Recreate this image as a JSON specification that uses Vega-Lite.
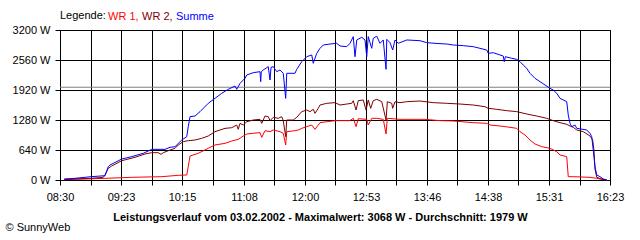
{
  "$schema": "https://vega.github.io/schema/vega-lite/v6.json",
  "width": 550,
  "height": 150,
  "autosize": "none",
  "padding": {"left": 60, "top": 30, "right": 30, "bottom": 60},
  "background": "white",
  "config": {
    "font": "Liberation Sans",
    "view": {"stroke": "black", "strokeWidth": 1},
    "axis": {
      "domainColor": "black",
      "tickColor": "black",
      "tickSize": 5,
      "gridColor": "black",
      "gridOpacity": 1,
      "gridWidth": 1,
      "labelColor": "black",
      "labelFont": "Liberation Sans",
      "labelFontSize": 11,
      "titleColor": "black",
      "titleFont": "Liberation Sans"
    }
  },
  "layer": [
    {
      "data": {"values": [{"avg": 1979}]},
      "mark": {"type": "rule", "color": "#808080", "strokeWidth": 1},
      "encoding": {
        "y": {
          "field": "avg",
          "type": "quantitative",
          "scale": {"domain": [0, 3200], "nice": false},
          "axis": {
            "values": [0, 640, 1280, 1920, 2560, 3200],
            "labelExpr": "datum.value + ' W'",
            "labelPadding": 5,
            "grid": true,
            "title": "© SunnyWeb",
            "titleAngle": 0,
            "titleFontWeight": "normal",
            "titleFontSize": 11,
            "titleAlign": "left",
            "titleBaseline": "alphabetic",
            "titleX": -55,
            "titleY": 200
          }
        }
      }
    },
    {
      "data": {
        "values": [
          {"s": "WR 1", "t": 513.7, "v": 7},
          {"s": "WR 1", "t": 548.7, "v": 36},
          {"s": "WR 1", "t": 571.7, "v": 57},
          {"s": "WR 1", "t": 597.5, "v": 71},
          {"s": "WR 1", "t": 611.7, "v": 100},
          {"s": "WR 1", "t": 619, "v": 107},
          {"s": "WR 1", "t": 620.3, "v": 284},
          {"s": "WR 1", "t": 621.8, "v": 512},
          {"s": "WR 1", "t": 628.9, "v": 569},
          {"s": "WR 1", "t": 637.5, "v": 676},
          {"s": "WR 1", "t": 643.3, "v": 747},
          {"s": "WR 1", "t": 651.9, "v": 782},
          {"s": "WR 1", "t": 657.7, "v": 832},
          {"s": "WR 1", "t": 663.3, "v": 868},
          {"s": "WR 1", "t": 664.8, "v": 889},
          {"s": "WR 1", "t": 667.6, "v": 939},
          {"s": "WR 1", "t": 670.6, "v": 981},
          {"s": "WR 1", "t": 676.2, "v": 996},
          {"s": "WR 1", "t": 682, "v": 1010},
          {"s": "WR 1", "t": 683.5, "v": 910},
          {"s": "WR 1", "t": 686.3, "v": 1052},
          {"s": "WR 1", "t": 690.6, "v": 1031},
          {"s": "WR 1", "t": 693.4, "v": 1067},
          {"s": "WR 1", "t": 699.2, "v": 1031},
          {"s": "WR 1", "t": 702, "v": 996},
          {"s": "WR 1", "t": 704.1, "v": 747},
          {"s": "WR 1", "t": 705, "v": 1031},
          {"s": "WR 1", "t": 712.1, "v": 1052},
          {"s": "WR 1", "t": 714.9, "v": 1067},
          {"s": "WR 1", "t": 717.9, "v": 1102},
          {"s": "WR 1", "t": 722.2, "v": 1138},
          {"s": "WR 1", "t": 726.5, "v": 1173},
          {"s": "WR 1", "t": 729.3, "v": 1081},
          {"s": "WR 1", "t": 732.1, "v": 1173},
          {"s": "WR 1", "t": 733.6, "v": 1223},
          {"s": "WR 1", "t": 739.4, "v": 1244},
          {"s": "WR 1", "t": 746.5, "v": 1266},
          {"s": "WR 1", "t": 759.4, "v": 1266},
          {"s": "WR 1", "t": 762.2, "v": 1316},
          {"s": "WR 1", "t": 764.6, "v": 1138},
          {"s": "WR 1", "t": 766.5, "v": 1308},
          {"s": "WR 1", "t": 773.8, "v": 1294},
          {"s": "WR 1", "t": 775.1, "v": 1173},
          {"s": "WR 1", "t": 778.1, "v": 1316},
          {"s": "WR 1", "t": 782.4, "v": 1316},
          {"s": "WR 1", "t": 788, "v": 1294},
          {"s": "WR 1", "t": 790.4, "v": 981},
          {"s": "WR 1", "t": 791.5, "v": 1316},
          {"s": "WR 1", "t": 802.4, "v": 1294},
          {"s": "WR 1", "t": 823.9, "v": 1294},
          {"s": "WR 1", "t": 836.8, "v": 1266},
          {"s": "WR 1", "t": 848.2, "v": 1259},
          {"s": "WR 1", "t": 865.4, "v": 1223},
          {"s": "WR 1", "t": 877, "v": 1209},
          {"s": "WR 1", "t": 879.8, "v": 1173},
          {"s": "WR 1", "t": 888.4, "v": 1152},
          {"s": "WR 1", "t": 897, "v": 1124},
          {"s": "WR 1", "t": 902.8, "v": 1102},
          {"s": "WR 1", "t": 905.6, "v": 1031},
          {"s": "WR 1", "t": 909.9, "v": 960},
          {"s": "WR 1", "t": 914.2, "v": 853},
          {"s": "WR 1", "t": 918.5, "v": 768},
          {"s": "WR 1", "t": 924.3, "v": 711},
          {"s": "WR 1", "t": 931.4, "v": 676},
          {"s": "WR 1", "t": 937.2, "v": 604},
          {"s": "WR 1", "t": 940, "v": 533},
          {"s": "WR 1", "t": 945.8, "v": 498},
          {"s": "WR 1", "t": 947.1, "v": 71},
          {"s": "WR 1", "t": 951.4, "v": 71},
          {"s": "WR 1", "t": 965.8, "v": 57},
          {"s": "WR 1", "t": 971.6, "v": 36},
          {"s": "WR 1", "t": 975.9, "v": 14},
          {"s": "WR 1", "t": 980.2, "v": 0},

          {"s": "WR 2", "t": 513.7, "v": 14},
          {"s": "WR 2", "t": 536.7, "v": 36},
          {"s": "WR 2", "t": 547.2, "v": 57},
          {"s": "WR 2", "t": 548.7, "v": 107},
          {"s": "WR 2", "t": 551.5, "v": 249},
          {"s": "WR 2", "t": 554.5, "v": 299},
          {"s": "WR 2", "t": 563.1, "v": 412},
          {"s": "WR 2", "t": 574.5, "v": 484},
          {"s": "WR 2", "t": 583.1, "v": 555},
          {"s": "WR 2", "t": 588.9, "v": 583},
          {"s": "WR 2", "t": 594.5, "v": 583},
          {"s": "WR 2", "t": 596.9, "v": 548},
          {"s": "WR 2", "t": 598.8, "v": 583},
          {"s": "WR 2", "t": 604.6, "v": 640},
          {"s": "WR 2", "t": 608.9, "v": 676},
          {"s": "WR 2", "t": 611.7, "v": 747},
          {"s": "WR 2", "t": 616, "v": 818},
          {"s": "WR 2", "t": 620.3, "v": 839},
          {"s": "WR 2", "t": 626.1, "v": 853},
          {"s": "WR 2", "t": 631.9, "v": 889},
          {"s": "WR 2", "t": 637.5, "v": 939},
          {"s": "WR 2", "t": 643.3, "v": 1031},
          {"s": "WR 2", "t": 651.9, "v": 1102},
          {"s": "WR 2", "t": 657.7, "v": 1116},
          {"s": "WR 2", "t": 662, "v": 1173},
          {"s": "WR 2", "t": 663.3, "v": 1081},
          {"s": "WR 2", "t": 664.8, "v": 1209},
          {"s": "WR 2", "t": 667.6, "v": 1173},
          {"s": "WR 2", "t": 670.6, "v": 1244},
          {"s": "WR 2", "t": 676.2, "v": 1280},
          {"s": "WR 2", "t": 682, "v": 1294},
          {"s": "WR 2", "t": 683.5, "v": 1209},
          {"s": "WR 2", "t": 686.3, "v": 1365},
          {"s": "WR 2", "t": 689.1, "v": 1351},
          {"s": "WR 2", "t": 690.6, "v": 1266},
          {"s": "WR 2", "t": 693.4, "v": 1337},
          {"s": "WR 2", "t": 697.7, "v": 1316},
          {"s": "WR 2", "t": 700.7, "v": 1351},
          {"s": "WR 2", "t": 702, "v": 1266},
          {"s": "WR 2", "t": 704.1, "v": 924},
          {"s": "WR 2", "t": 705, "v": 1280},
          {"s": "WR 2", "t": 710.6, "v": 1280},
          {"s": "WR 2", "t": 713.6, "v": 1337},
          {"s": "WR 2", "t": 717.9, "v": 1458},
          {"s": "WR 2", "t": 722.2, "v": 1493},
          {"s": "WR 2", "t": 725, "v": 1458},
          {"s": "WR 2", "t": 727.8, "v": 1508},
          {"s": "WR 2", "t": 729.3, "v": 1422},
          {"s": "WR 2", "t": 732.1, "v": 1529},
          {"s": "WR 2", "t": 733.6, "v": 1600},
          {"s": "WR 2", "t": 739.4, "v": 1636},
          {"s": "WR 2", "t": 746.5, "v": 1650},
          {"s": "WR 2", "t": 750.8, "v": 1600},
          {"s": "WR 2", "t": 756.6, "v": 1621},
          {"s": "WR 2", "t": 760.9, "v": 1636},
          {"s": "WR 2", "t": 762.2, "v": 1692},
          {"s": "WR 2", "t": 764.6, "v": 1493},
          {"s": "WR 2", "t": 766.5, "v": 1692},
          {"s": "WR 2", "t": 770.8, "v": 1707},
          {"s": "WR 2", "t": 773.2, "v": 1493},
          {"s": "WR 2", "t": 775.1, "v": 1707},
          {"s": "WR 2", "t": 777.2, "v": 1529},
          {"s": "WR 2", "t": 779.4, "v": 1692},
          {"s": "WR 2", "t": 782.4, "v": 1721},
          {"s": "WR 2", "t": 786.7, "v": 1671},
          {"s": "WR 2", "t": 790.4, "v": 1280},
          {"s": "WR 2", "t": 791.5, "v": 1671},
          {"s": "WR 2", "t": 795.3, "v": 1636},
          {"s": "WR 2", "t": 796.1, "v": 1529},
          {"s": "WR 2", "t": 798.1, "v": 1671},
          {"s": "WR 2", "t": 802.4, "v": 1650},
          {"s": "WR 2", "t": 808.2, "v": 1671},
          {"s": "WR 2", "t": 819.6, "v": 1685},
          {"s": "WR 2", "t": 831, "v": 1650},
          {"s": "WR 2", "t": 842.6, "v": 1636},
          {"s": "WR 2", "t": 854, "v": 1621},
          {"s": "WR 2", "t": 865.4, "v": 1600},
          {"s": "WR 2", "t": 875.5, "v": 1564},
          {"s": "WR 2", "t": 878.3, "v": 1529},
          {"s": "WR 2", "t": 885.6, "v": 1508},
          {"s": "WR 2", "t": 894.2, "v": 1479},
          {"s": "WR 2", "t": 902.8, "v": 1458},
          {"s": "WR 2", "t": 911.4, "v": 1408},
          {"s": "WR 2", "t": 920, "v": 1365},
          {"s": "WR 2", "t": 928.6, "v": 1316},
          {"s": "WR 2", "t": 934.2, "v": 1266},
          {"s": "WR 2", "t": 940, "v": 1223},
          {"s": "WR 2", "t": 945.8, "v": 1188},
          {"s": "WR 2", "t": 948.6, "v": 1152},
          {"s": "WR 2", "t": 951.4, "v": 1124},
          {"s": "WR 2", "t": 954.4, "v": 1067},
          {"s": "WR 2", "t": 960, "v": 1031},
          {"s": "WR 2", "t": 965.8, "v": 939},
          {"s": "WR 2", "t": 968.1, "v": 853},
          {"s": "WR 2", "t": 969.2, "v": 640},
          {"s": "WR 2", "t": 970.1, "v": 230},
          {"s": "WR 2", "t": 971.6, "v": 60},
          {"s": "WR 2", "t": 974.4, "v": 30},
          {"s": "WR 2", "t": 980.2, "v": 0},

          {"s": "Summe", "t": 513.7, "v": 21},
          {"s": "Summe", "t": 522.9, "v": 36},
          {"s": "Summe", "t": 536.7, "v": 71},
          {"s": "Summe", "t": 548.7, "v": 92},
          {"s": "Summe", "t": 551.5, "v": 284},
          {"s": "Summe", "t": 553, "v": 320},
          {"s": "Summe", "t": 563.1, "v": 448},
          {"s": "Summe", "t": 571.7, "v": 498},
          {"s": "Summe", "t": 581.6, "v": 569},
          {"s": "Summe", "t": 588.9, "v": 654},
          {"s": "Summe", "t": 600.3, "v": 654},
          {"s": "Summe", "t": 604.6, "v": 697},
          {"s": "Summe", "t": 608.9, "v": 711},
          {"s": "Summe", "t": 614.7, "v": 853},
          {"s": "Summe", "t": 619, "v": 924},
          {"s": "Summe", "t": 620.3, "v": 1137},
          {"s": "Summe", "t": 621.8, "v": 1351},
          {"s": "Summe", "t": 626.1, "v": 1365},
          {"s": "Summe", "t": 630.4, "v": 1458},
          {"s": "Summe", "t": 637.5, "v": 1636},
          {"s": "Summe", "t": 643.3, "v": 1742},
          {"s": "Summe", "t": 649.1, "v": 1849},
          {"s": "Summe", "t": 654.7, "v": 1934},
          {"s": "Summe", "t": 660.5, "v": 2005},
          {"s": "Summe", "t": 662, "v": 1934},
          {"s": "Summe", "t": 664.8, "v": 2062},
          {"s": "Summe", "t": 669.1, "v": 2169},
          {"s": "Summe", "t": 670.6, "v": 2240},
          {"s": "Summe", "t": 676.2, "v": 2290},
          {"s": "Summe", "t": 682, "v": 2311},
          {"s": "Summe", "t": 682.6, "v": 2098},
          {"s": "Summe", "t": 683.1, "v": 2311},
          {"s": "Summe", "t": 684.8, "v": 2347},
          {"s": "Summe", "t": 689.1, "v": 2418},
          {"s": "Summe", "t": 690.6, "v": 2133},
          {"s": "Summe", "t": 691.5, "v": 2404},
          {"s": "Summe", "t": 693.4, "v": 2418},
          {"s": "Summe", "t": 696.4, "v": 2311},
          {"s": "Summe", "t": 699.2, "v": 2347},
          {"s": "Summe", "t": 702, "v": 2276},
          {"s": "Summe", "t": 704.1, "v": 1742},
          {"s": "Summe", "t": 705, "v": 2276},
          {"s": "Summe", "t": 712.1, "v": 2276},
          {"s": "Summe", "t": 713.6, "v": 2361},
          {"s": "Summe", "t": 717.9, "v": 2524},
          {"s": "Summe", "t": 722.2, "v": 2631},
          {"s": "Summe", "t": 726.5, "v": 2667},
          {"s": "Summe", "t": 727.8, "v": 2489},
          {"s": "Summe", "t": 730.8, "v": 2702},
          {"s": "Summe", "t": 733.6, "v": 2809},
          {"s": "Summe", "t": 736.4, "v": 2880},
          {"s": "Summe", "t": 742.2, "v": 2901},
          {"s": "Summe", "t": 748, "v": 2916},
          {"s": "Summe", "t": 750.8, "v": 2859},
          {"s": "Summe", "t": 756.6, "v": 2844},
          {"s": "Summe", "t": 759.4, "v": 2916},
          {"s": "Summe", "t": 762.2, "v": 3058},
          {"s": "Summe", "t": 763.7, "v": 2631},
          {"s": "Summe", "t": 765.2, "v": 2987},
          {"s": "Summe", "t": 769.5, "v": 3044},
          {"s": "Summe", "t": 772.3, "v": 2987},
          {"s": "Summe", "t": 773.8, "v": 2631},
          {"s": "Summe", "t": 775.1, "v": 3058},
          {"s": "Summe", "t": 778.1, "v": 2809},
          {"s": "Summe", "t": 779.4, "v": 3022},
          {"s": "Summe", "t": 782.4, "v": 3068},
          {"s": "Summe", "t": 785.2, "v": 2916},
          {"s": "Summe", "t": 788, "v": 2987},
          {"s": "Summe", "t": 790.4, "v": 2361},
          {"s": "Summe", "t": 791, "v": 3001},
          {"s": "Summe", "t": 793.8, "v": 2930},
          {"s": "Summe", "t": 796.1, "v": 2773},
          {"s": "Summe", "t": 798.1, "v": 2987},
          {"s": "Summe", "t": 800.9, "v": 2916},
          {"s": "Summe", "t": 808.2, "v": 2987},
          {"s": "Summe", "t": 819.6, "v": 2972},
          {"s": "Summe", "t": 825.4, "v": 2930},
          {"s": "Summe", "t": 832.5, "v": 2916},
          {"s": "Summe", "t": 842.6, "v": 2901},
          {"s": "Summe", "t": 848.2, "v": 2880},
          {"s": "Summe", "t": 856.8, "v": 2866},
          {"s": "Summe", "t": 865.4, "v": 2844},
          {"s": "Summe", "t": 871.2, "v": 2809},
          {"s": "Summe", "t": 877, "v": 2773},
          {"s": "Summe", "t": 878.3, "v": 2702},
          {"s": "Summe", "t": 882.6, "v": 2716},
          {"s": "Summe", "t": 888.4, "v": 2667},
          {"s": "Summe", "t": 891.2, "v": 2645},
          {"s": "Summe", "t": 892.1, "v": 2524},
          {"s": "Summe", "t": 893, "v": 2631},
          {"s": "Summe", "t": 898.5, "v": 2596},
          {"s": "Summe", "t": 902.8, "v": 2574},
          {"s": "Summe", "t": 905.6, "v": 2524},
          {"s": "Summe", "t": 908.4, "v": 2453},
          {"s": "Summe", "t": 911.4, "v": 2382},
          {"s": "Summe", "t": 914.2, "v": 2276},
          {"s": "Summe", "t": 918.5, "v": 2169},
          {"s": "Summe", "t": 922.8, "v": 2098},
          {"s": "Summe", "t": 927.1, "v": 2027},
          {"s": "Summe", "t": 931.4, "v": 1956},
          {"s": "Summe", "t": 934.2, "v": 1920},
          {"s": "Summe", "t": 937.2, "v": 1849},
          {"s": "Summe", "t": 940, "v": 1742},
          {"s": "Summe", "t": 945.8, "v": 1671},
          {"s": "Summe", "t": 947.1, "v": 1387},
          {"s": "Summe", "t": 948.6, "v": 1209},
          {"s": "Summe", "t": 950.1, "v": 1138},
          {"s": "Summe", "t": 952.9, "v": 1173},
          {"s": "Summe", "t": 954.4, "v": 1102},
          {"s": "Summe", "t": 963, "v": 1067},
          {"s": "Summe", "t": 965.8, "v": 996},
          {"s": "Summe", "t": 967.3, "v": 924},
          {"s": "Summe", "t": 968.6, "v": 640},
          {"s": "Summe", "t": 970.1, "v": 284},
          {"s": "Summe", "t": 971.6, "v": 107},
          {"s": "Summe", "t": 974.4, "v": 71},
          {"s": "Summe", "t": 977.3, "v": 21},
          {"s": "Summe", "t": 980.2, "v": 0}
        ]
      },
      "mark": {"type": "line", "strokeWidth": 1},
      "encoding": {
        "x": {
          "field": "t",
          "type": "quantitative",
          "scale": {"domain": [510, 983], "nice": false, "zero": false},
          "axis": {
            "values": [510, 536.66, 562.46, 589.12, 614.92, 641.58, 668.24, 694.04, 720.7, 746.5, 773.16, 798.96, 825.62, 851.42, 878.08, 903.88, 930.54, 957.2, 983],
            "labelExpr": "['08:30','','09:23','','10:15','','11:08','','12:00','','12:53','','13:46','','14:38','','15:31','','16:23'][round((datum.value-510)/26.2778)]",
            "labelFlush": false,
            "labelOverlap": false,
            "labelPadding": 6,
            "grid": true,
            "title": "Leistungsverlauf vom 03.02.2002 - Maximalwert: 3068 W - Durchschnitt: 1979 W",
            "titleFontWeight": "bold",
            "titleFontSize": 11,
            "titleAlign": "center",
            "titleBaseline": "alphabetic",
            "titleX": 260,
            "titleY": 40
          }
        },
        "y": {
          "field": "v",
          "type": "quantitative",
          "scale": {"domain": [0, 3200], "nice": false},
          "axis": {
            "values": [0, 640, 1280, 1920, 2560, 3200],
            "labelExpr": "datum.value + ' W'",
            "labelPadding": 5,
            "grid": true,
            "title": "© SunnyWeb",
            "titleAngle": 0,
            "titleFontWeight": "normal",
            "titleFontSize": 11,
            "titleAlign": "left",
            "titleBaseline": "alphabetic",
            "titleX": -55,
            "titleY": 200
          }
        },
        "color": {
          "field": "s",
          "type": "nominal",
          "scale": {"domain": ["WR 1", "WR 2", "Summe"], "range": ["#ff0000", "#800000", "#0000ff"]},
          "legend": {
            "orient": "none",
            "legendX": 0,
            "legendY": -19,
            "direction": "horizontal",
            "title": "Legende:",
            "titleOrient": "left",
            "titleFontWeight": "normal",
            "titleFontSize": 11,
            "titleFont": "Liberation Sans",
            "titleColor": "black",
            "titlePadding": 3,
            "labelFontSize": 11,
            "labelFont": "Liberation Sans",
            "labelOffset": -12,
            "labelExpr": "datum.label == 'Summe' ? datum.label : datum.label + ','",
            "symbolSize": 0,
            "symbolOpacity": 0,
            "symbolStrokeWidth": 0,
            "columnPadding": 3,
            "padding": 0,
            "encode": {
              "labels": {"update": {"fill": {"scale": "color", "field": "value"}}}
            }
          }
        }
      }
    }
  ]
}
